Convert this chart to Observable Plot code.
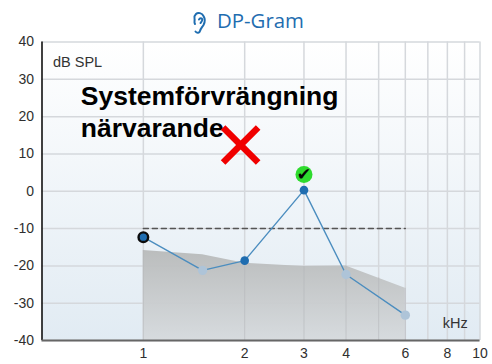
<!DOCTYPE html>
<html>
<head>
<meta charset="utf-8">
<script src="https://cdn.jsdelivr.net/npm/d3@7"></script>
<script src="https://cdn.jsdelivr.net/npm/@observablehq/plot@0.6"></script>
<style>
html,body{margin:0;padding:0;background:#fff;overflow:hidden}
#head{height:30px;position:relative;font-family:"Open Sans",sans-serif;color:#1f6db0;font-size:20.4px;line-height:30px}
#head svg{position:absolute;left:192px;top:10px}
#head span{position:absolute;left:217px;top:5px}
#chart svg{display:block}
</style>
</head>
<body>
<div id="head">
<svg width="16" height="25" viewBox="0 0 16 24" fill="none" stroke="#1f6db0" stroke-width="2" stroke-linecap="round"><path d="M3.500 21c1.500 2 4 1.500 4.500-.5.600-2.500 2-3.500 3.500-6 1.500-2.700 1.500-6.500 0-9C10 2.500 6 1.500 4 3.500 2.500 5 2 6.500 2.500 8c.6 2-.8 4 .5 5.500"/><path d="M7 9c.7-1.800 3-1.800 3.300 0 .2 1.500-1.300 2.500-1.800 3.500"/></svg>
<span>DP-Gram</span>
</div>
<div id="chart"></div>
<script>
const dpFreq = [1, 1.5, 2, 3, 4, 6];
const dpLevel = [-12.3, -21.2, -18.6, 0.3, -22.3, -33.2];
const dpState = ["first", "pale", "pass", "pass", "pale", "pale"];
const noiseFreq = [1, 1.5, 2, 3, 4, 6];
const noiseLevel = [-15.9, -17, -19.3, -20.2, -20, -26];
const noiseGridFreq = [1, 2, 3, 4, 5, 6];
const noiseGridLevel = [-15.9, -19.3, -20.2, -20, -23.2, -26];
const criterionFreq = [1, 6];
const criterionLevel = [-10, -10];
const xTicks = [1, 2, 3, 4, 6, 8, 10];
const xGrid = [1, 2, 3, 4, 5, 6, 7, 8, 9, 10];
const yTicks = [-40, -30, -20, -10, 0, 10, 20, 30, 40];

const points = dpFreq.map((f, i) => ({f, level: dpLevel[i], state: dpState[i]}));
const noise = noiseFreq.map((f, i) => ({f, level: noiseLevel[i]}));
const noiseGrid = noiseGridFreq.map((f, i) => ({f, level: noiseGridLevel[i]}));
const criterion = criterionFreq.map((f, i) => ({f, level: criterionLevel[i]}));
const byState = s => points.filter(d => d.state === s);

const defs = () => {
  const svg = d3.create("svg:g");
  const d = svg.append("defs");
  const g1 = d.append("linearGradient").attr("id", "bgGrad").attr("x1", 0).attr("x2", 0).attr("y1", 0).attr("y2", 1);
  g1.append("stop").attr("offset", "0%").attr("stop-color", "#ffffff");
  g1.append("stop").attr("offset", "100%").attr("stop-color", "#e1ebf3");
  const g2 = d.append("linearGradient").attr("id", "areaGrad").attr("x1", 0).attr("x2", 0).attr("y1", 0).attr("y2", 1);
  g2.append("stop").attr("offset", "0%").attr("stop-color", "#b8baba");
  g2.append("stop").attr("offset", "100%").attr("stop-color", "#d6dadd");
  return svg.node();
};

const ink = "#2f2f2f";
const plot = Plot.plot({
  width: 492,
  height: 334,
  marginLeft: 41.5,
  marginRight: 12.5,
  marginTop: 11.5,
  marginBottom: 24,
  style: {background: "transparent", fontFamily: "'Liberation Sans', Arial, sans-serif"},
  x: {type: "log", domain: [0.5, 10], axis: null},
  y: {domain: [-40, 40]},
  marks: [
    defs,
    Plot.frame({fill: "url(#bgGrad)", stroke: null}),
    Plot.gridY(yTicks, {stroke: "#d5d8dc", strokeOpacity: 1, strokeWidth: 1.5}),
    Plot.gridX(xGrid, {stroke: "#d5d8dc", strokeOpacity: 1, strokeWidth: 1.5}),
    Plot.areaY(noise, {x: "f", y1: -40, y2: "level", fill: "url(#areaGrad)", fillOpacity: 0.95}),
    Plot.ruleX(noiseGrid, {x: "f", y1: -40, y2: "level", stroke: "#b4b7b9", strokeOpacity: 0.55}),
    Plot.ruleX([0.5], {stroke: "#111", strokeWidth: 1.6}),
    Plot.ruleY([-40], {stroke: "#666", strokeWidth: 2.2}),
    Plot.line(criterion, {x: "f", y: "level", stroke: "#555", strokeWidth: 1.5, strokeDasharray: "5 4"}),
    Plot.line(points, {x: "f", y: "level", stroke: "#4b8dbf", strokeWidth: 1.4}),
    Plot.dot(byState("first"), {x: "f", y: "level", r: 4.8, fill: "#1f6db0", stroke: "#0c0c0c", strokeWidth: 2.4}),
    Plot.dot(byState("pass"), {x: "f", y: "level", r: 4.3, fill: "#1f6db0"}),
    Plot.dot(byState("pale"), {x: "f", y: "level", r: 4.7, fill: "#aec4d8"}),
    Plot.axisY({ticks: yTicks, tickSize: 0, tickPadding: 8, tickFormat: String, fontSize: 14, color: ink, label: null}),
    Plot.text(xTicks, {x: d => d, frameAnchor: "bottom", lineAnchor: "middle", dy: 13.5, text: String, fontSize: 14, fill: ink}),
    Plot.text(["dB SPL"], {x: [0.539], y: [34.6], text: d => d, textAnchor: "start", fontSize: 14.5, fill: "#333"}),
    Plot.text(["kHz"], {x: [7.75], y: [-35.3], text: d => d, textAnchor: "start", fontSize: 14.5, fill: "#333"}),
    Plot.text(["Systemförvrängning", "närvarande"], {
      x: [0.652, 0.652], y: [25.3, 16.7], text: d => d, textAnchor: "start",
      fontSize: 26.5, fontWeight: 700, fill: "#000"
    }),
    Plot.dot([{f: 1.945, level: 12.4}], {x: "f", y: "level", symbol: "times", r: 16, stroke: "#f00000", strokeWidth: 6.5}),
    Plot.dot([{f: 3, level: 4.5}], {x: "f", y: "level", r: 8.5, fill: "#2edb2e"}),
    Plot.text(["✔"], {x: [3], y: [4.5], text: d => d, fontSize: 17, fill: "#050505", fontFamily: "'DejaVu Sans'"})
  ]
});
document.getElementById("chart").append(plot);
</script>
</body>
</html>
